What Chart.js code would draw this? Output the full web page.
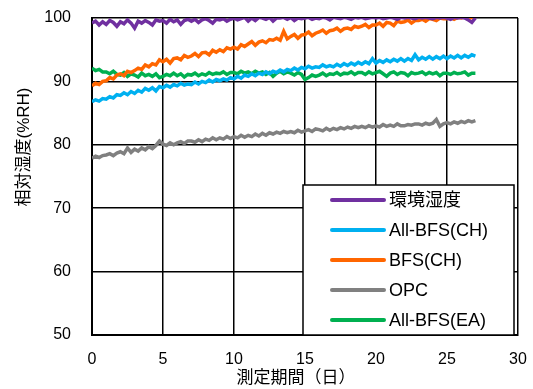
<!DOCTYPE html>
<html>
<head>
<meta charset="utf-8">
<script src="https://cdn.jsdelivr.net/npm/chart.js@4/dist/chart.umd.min.js"></script>
<style>
html,body{margin:0;padding:0;background:#fff;}
#wrap{width:533px;height:389px;position:relative;}
</style>
</head>
<body>
<div id="wrap"><canvas id="c" width="533" height="389"></canvas></div>
<script>
// sampling times (days), every 0.25 day from 0 to 27
const days = Array.from({length:109}, (_, i) => i / 4);

const seriesNames = ['環境湿度', 'All-BFS(CH)', 'BFS(CH)', 'OPC', 'All-BFS(EA)'];

const ambient = [
 99.2,99.5,98.9,99.4, 99.0,99.6,99.3,98.7, 99.4,99.1,99.7,99.2, 98.4,99.5,99.2,99.6,
 99.3,98.9,99.7,99.5, 99.6,99.2,99.8,99.4, 99.7,99.0,99.6,99.8, 99.5,99.8,99.3,99.7,
 99.9,99.6,99.2,99.8, 99.7,99.9,99.5,99.8, 100.0,99.7,99.9,100.1, 99.5,100.0,99.6,100.1,
 100.0,99.8,100.1,99.5, 100.0,100.0,100.1,99.8, 100.1,99.6,100.0,99.9, 100.0,100.1,99.8,100.0,
 99.9,100.1,100.0,99.7, 100.1,100.0,99.9,100.1, 100.0,99.8,100.1,100.0, 100.1,99.9,100.0,100.1,
 100.0,100.1,99.9,100.0, 100.1,100.0,99.8,100.1, 100.0,100.1,100.0,99.9, 100.1,100.0,100.1,100.0,
 99.9,100.1,100.0,100.1, 100.0,99.8,100.1,100.0, 100.1,100.0,99.7,99.3, 100.0
];

const allBfsCH = [
 86.8,87.1,86.9,87.3, 87.2,87.6,87.4,87.9, 87.8,88.2,87.9,88.4, 88.1,88.6,88.3,88.9,
 88.6,89.0,88.5,89.2, 89.0,89.4,89.1,89.5, 89.3,89.7,89.4,89.6, 89.5,89.9,89.6,90.0,
 89.8,90.2,89.9,90.3, 90.1,90.4,90.2,90.6, 90.4,90.8,90.5,91.0, 90.8,91.2,90.9,91.3,
 91.1,91.5,91.2,91.6, 91.4,91.8,91.5,91.9, 91.7,92.1,91.8,92.2, 92.0,92.4,92.1,92.3,
 92.2,92.6,92.3,92.5, 92.3,92.7,92.4,92.8, 92.5,92.9,92.6,93.0, 92.7,93.1,92.8,93.6,
 92.9,93.3,93.0,93.4, 93.1,93.5,93.2,93.6, 93.2,93.6,93.3,94.2, 93.4,93.8,93.5,93.9,
 93.5,93.9,93.6,94.0, 93.6,94.0,93.7,94.1, 93.7,94.1,93.8,94.2, 94.0
];

const bfsCH = [
 89.3,89.7,89.5,90.0, 90.1,90.6,90.4,91.0, 91.2,90.9,91.6,91.4, 91.7,92.1,91.9,92.6,
 92.3,92.8,92.6,93.4, 93.1,93.5,92.9,93.6, 93.7,93.4,94.1,93.8, 94.0,94.4,93.9,94.5,
 94.6,94.2,94.9,94.6, 95.0,94.7,95.3,95.1, 95.4,95.1,95.8,95.5, 95.9,96.3,95.7,96.2,
 96.4,96.1,96.6,96.5, 96.8,96.5,97.9,96.7, 97.1,97.4,96.8,97.3, 97.4,97.8,97.2,97.6,
 97.8,98.1,97.6,98.0, 98.1,98.4,97.9,98.3, 98.4,98.2,98.7,98.5, 98.7,99.0,98.5,98.9,
 98.9,99.2,98.7,99.3, 99.2,98.8,99.5,99.3, 99.4,99.7,99.2,99.6, 99.6,99.8,99.5,99.9,
 99.8,99.6,100.0,99.9, 99.9,100.1,99.8,100.1, 100.0,100.2,99.9,100.1, 100.1
];

const opc = [
 77.9,78.2,78.0,78.3, 78.4,78.6,78.3,78.7, 78.9,78.6,79.5,78.8, 79.3,79.0,79.5,79.2,
 79.7,79.4,79.9,80.6, 80.1,79.9,80.3,80.0, 80.3,80.5,80.2,80.6, 80.6,80.4,80.8,80.5,
 80.9,80.7,81.1,80.8, 81.1,80.9,81.3,81.0, 81.3,81.1,81.5,81.2, 81.5,81.3,81.7,81.4,
 81.8,81.5,81.9,81.7, 82.0,81.8,82.1,81.9, 82.1,81.9,82.3,82.0, 82.2,82.4,82.1,82.5,
 82.4,82.2,82.6,82.3, 82.6,82.4,82.7,82.5, 82.8,82.6,82.9,82.7, 82.9,82.7,83.0,82.8,
 83.0,82.8,83.2,82.9, 83.1,82.9,83.3,83.0, 83.0,83.2,83.1,83.3, 83.3,83.1,83.4,83.2,
 83.4,84.0,82.9,83.3, 83.5,83.3,83.6,83.4, 83.7,83.5,83.8,83.6, 83.8
];

const allBfsEA = [
 92.1,91.7,91.9,91.5, 91.5,91.2,91.6,91.1, 91.0,91.4,90.8,91.2, 91.0,90.7,91.3,90.9,
 91.1,90.8,91.2,90.6, 90.8,91.1,90.9,91.3, 90.9,91.2,90.7,91.1, 91.0,91.3,90.9,91.2,
 91.0,91.4,91.1,91.3, 91.2,91.5,91.1,91.4, 91.4,91.2,91.6,91.3, 91.5,91.2,91.6,91.3,
 91.5,91.1,91.4,90.8, 91.3,91.6,91.2,91.5, 91.3,91.0,91.4,91.1, 90.3,90.6,91.0,90.8,
 91.0,91.3,90.9,91.2, 91.1,91.4,91.0,91.3, 91.2,91.5,91.1,91.4, 91.4,91.1,91.5,91.2,
 91.4,91.6,91.2,90.8, 91.3,91.5,91.1,91.4, 91.3,90.9,91.4,91.2, 91.3,91.5,91.1,91.4,
 91.2,91.4,90.9,91.3, 91.3,91.1,91.4,91.2, 91.3,91.5,91.0,91.3, 91.3
];

const xTicks = [0, 5, 10, 15, 20, 25, 30];
const yTicks = [50, 60, 70, 80, 90, 100];
const xTitle = '測定期間（日）';
const yTitle = '相対湿度(%RH)';

const colors = ['#7030A0', '#00B0F0', '#FF6600', '#808080', '#00B050'];
const values = [ambient, allBfsCH, bfsCH, opc, allBfsEA];

const FONT = '"Liberation Sans", "Noto Sans CJK JP", sans-serif';
const TEXT = '#000';

const datasets = seriesNames.map((name, k) => ({
  label: name,
  data: days.map((d, i) => ({x: d, y: values[k][i]})),
  borderColor: colors[k],
  backgroundColor: colors[k],
  borderWidth: 3.5,
  pointRadius: 0,
  tension: 0,
  clip: 0
}));

const extras = {
  id: 'extras',
  afterDraw(chart) {
    const ctx = chart.ctx;
    const a = chart.chartArea;
    ctx.save();
    // axis titles
    ctx.fillStyle = TEXT;
    ctx.font = '17px ' + FONT;
    ctx.textAlign = 'center';
    ctx.textBaseline = 'middle';
    ctx.save();
    ctx.translate(24, 147);
    ctx.rotate(-Math.PI / 2);
    ctx.fillText(yTitle, 0, 0);
    ctx.restore();
    ctx.fillText(xTitle, 296, 378);

    // legend box
    const bx = a.right - 215, by = a.bottom - 150, bw = 211, bh = 150;
    ctx.fillStyle = '#fff';
    ctx.fillRect(bx, by, bw, bh);
    ctx.strokeStyle = '#000';
    ctx.lineWidth = 1.5;
    ctx.strokeRect(bx, by, bw, bh);
    ctx.font = '18px ' + FONT;
    ctx.textAlign = 'left';
    ctx.textBaseline = 'middle';
    chart.data.datasets.forEach((ds, k) => {
      const yy = by + 15 + k * 30;
      ctx.strokeStyle = ds.borderColor;
      ctx.lineWidth = 4;
      ctx.lineCap = 'round';
      ctx.beginPath();
      ctx.moveTo(bx + 29, yy);
      ctx.lineTo(bx + 81, yy);
      ctx.stroke();
      ctx.fillStyle = TEXT;
      ctx.fillText(ds.label, bx + 86, yy + 1);
    });
    ctx.restore();
  }
};

new Chart(document.getElementById('c'), {
  type: 'line',
  data: {datasets},
  options: {
    responsive: false,
    animation: false,
    events: [],
    layout: {padding: {top: 18, right: 15, left: 0, bottom: 0}},
    plugins: {legend: {display: false}, tooltip: {enabled: false}},
    scales: {
      x: {
        type: 'linear', min: 0, max: 30,
        afterBuildTicks: s => { s.ticks = xTicks.map(v => ({value: v})); },
        afterFit: s => { s.height = 54; },
        grid: {color: '#000', lineWidth: 1.5, drawTicks: true, tickLength: 15, tickColor: 'rgba(0,0,0,0)'},
        border: {color: '#000', width: 2},
        ticks: {padding: 0, color: TEXT, font: {family: FONT, size: 16}, maxRotation: 0}
      },
      y: {
        type: 'linear', min: 50, max: 100,
        afterBuildTicks: s => { s.ticks = yTicks.map(v => ({value: v})); },
        afterFit: s => { s.width = 92; },
        grid: {color: '#000', lineWidth: 1.5, drawTicks: true, tickLength: 21, tickColor: 'rgba(0,0,0,0)'},
        border: {color: '#000', width: 2},
        ticks: {padding: 0, color: TEXT, font: {family: FONT, size: 16}}
      }
    }
  },
  plugins: [extras]
});
</script>
</body>
</html>
